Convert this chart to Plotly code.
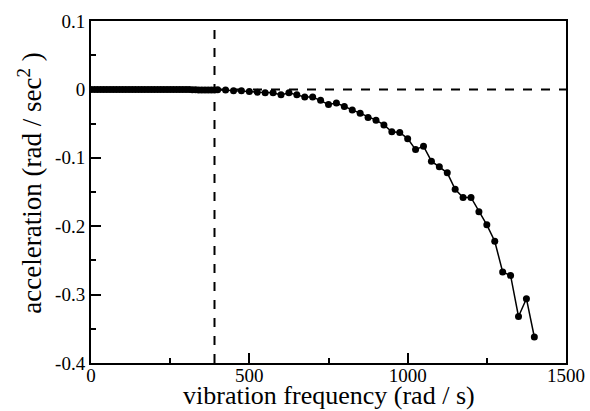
import plotly.graph_objects as go

freq = list(range(0, 400, 10)) + list(range(400, 1401, 25))
accel = [0.0] * 30 + [-0.0003, -0.0003, -0.0005, -0.0005, -0.0007, -0.0007, -0.0008, -0.0008, -0.001, -0.001] + [
    -0.0005, -0.001, -0.002, -0.002, -0.003, -0.004, -0.005, -0.005, -0.008, -0.005,
    -0.008, -0.011, -0.011, -0.016, -0.022, -0.020, -0.025, -0.030, -0.035, -0.041,
    -0.045, -0.052, -0.062, -0.063, -0.072, -0.088, -0.083, -0.105, -0.113, -0.122,
    -0.146, -0.158, -0.158, -0.179, -0.198, -0.222, -0.267, -0.272, -0.332, -0.306,
    -0.362]

x_ticks = [0, 500, 1000, 1500]
x_tick_text = ["0", "500", "1000", "1500"]
y_ticks = [0.1, 0, -0.1, -0.2, -0.3, -0.4]
y_tick_text = ["0.1", "0", "-0.1", "-0.2", "-0.3", "-0.4"]
x_cut = 390
x_title = "vibration frequency (rad / s)"
y_title = "acceleration (rad / sec<sup>2</sup>&nbsp;)"

font = "Liberation Serif"

fig = go.Figure()
fig.add_trace(go.Scatter(
    x=freq, y=accel, mode="lines+markers",
    line=dict(color="black", width=1.5),
    marker=dict(color="black", size=7),
    showlegend=False,
))

fig.add_shape(type="line", xref="x", yref="paper", x0=x_cut, x1=x_cut, y0=0, y1=1,
              line=dict(color="black", width=2, dash="dash"))
fig.add_shape(type="line", xref="x", yref="y", x0=0, x1=1500, y0=0, y1=0,
              line=dict(color="black", width=2, dash="dash"))

axis_common = dict(
    showgrid=False, zeroline=False, showline=True, mirror=True, automargin=False,
    linecolor="black", linewidth=2, ticks="inside", ticklen=10, tickwidth=2,
    tickcolor="black", tickfont=dict(family=font, size=19, color="black"),
)

fig.update_xaxes(
    range=[0, 1500], tickvals=x_ticks, ticktext=x_tick_text,
    minor=dict(ticks="inside", ticklen=5, tickwidth=2, tickcolor="black", dtick=250, showgrid=False),
    ticklabelstandoff=-6,
    **axis_common,
)
fig.update_yaxes(
    range=[-0.4, 0.1], tickvals=y_ticks, ticktext=y_tick_text,
    minor=dict(ticks="inside", ticklen=5, tickwidth=2, tickcolor="black", dtick=0.05, showgrid=False),
    ticklabelstandoff=0,
    **axis_common,
)

fig.add_annotation(text=x_title, xref="paper", yref="paper", x=0.5, y=-0.1404,
                   xanchor="center", yanchor="bottom", showarrow=False, borderpad=0,
                   font=dict(family=font, size=26, color="black"))
fig.add_annotation(text=y_title, xref="paper", yref="paper", x=-0.128, y=0.525,
                   xanchor="center", yanchor="middle", showarrow=False, textangle=-90,
                   font=dict(family=font, size=27, color="black"))

fig.update_layout(
    width=590, height=411,
    margin=dict(l=91, r=24, t=21, b=48),
    plot_bgcolor="white", paper_bgcolor="white",
)

fig.write_html("out.html")
